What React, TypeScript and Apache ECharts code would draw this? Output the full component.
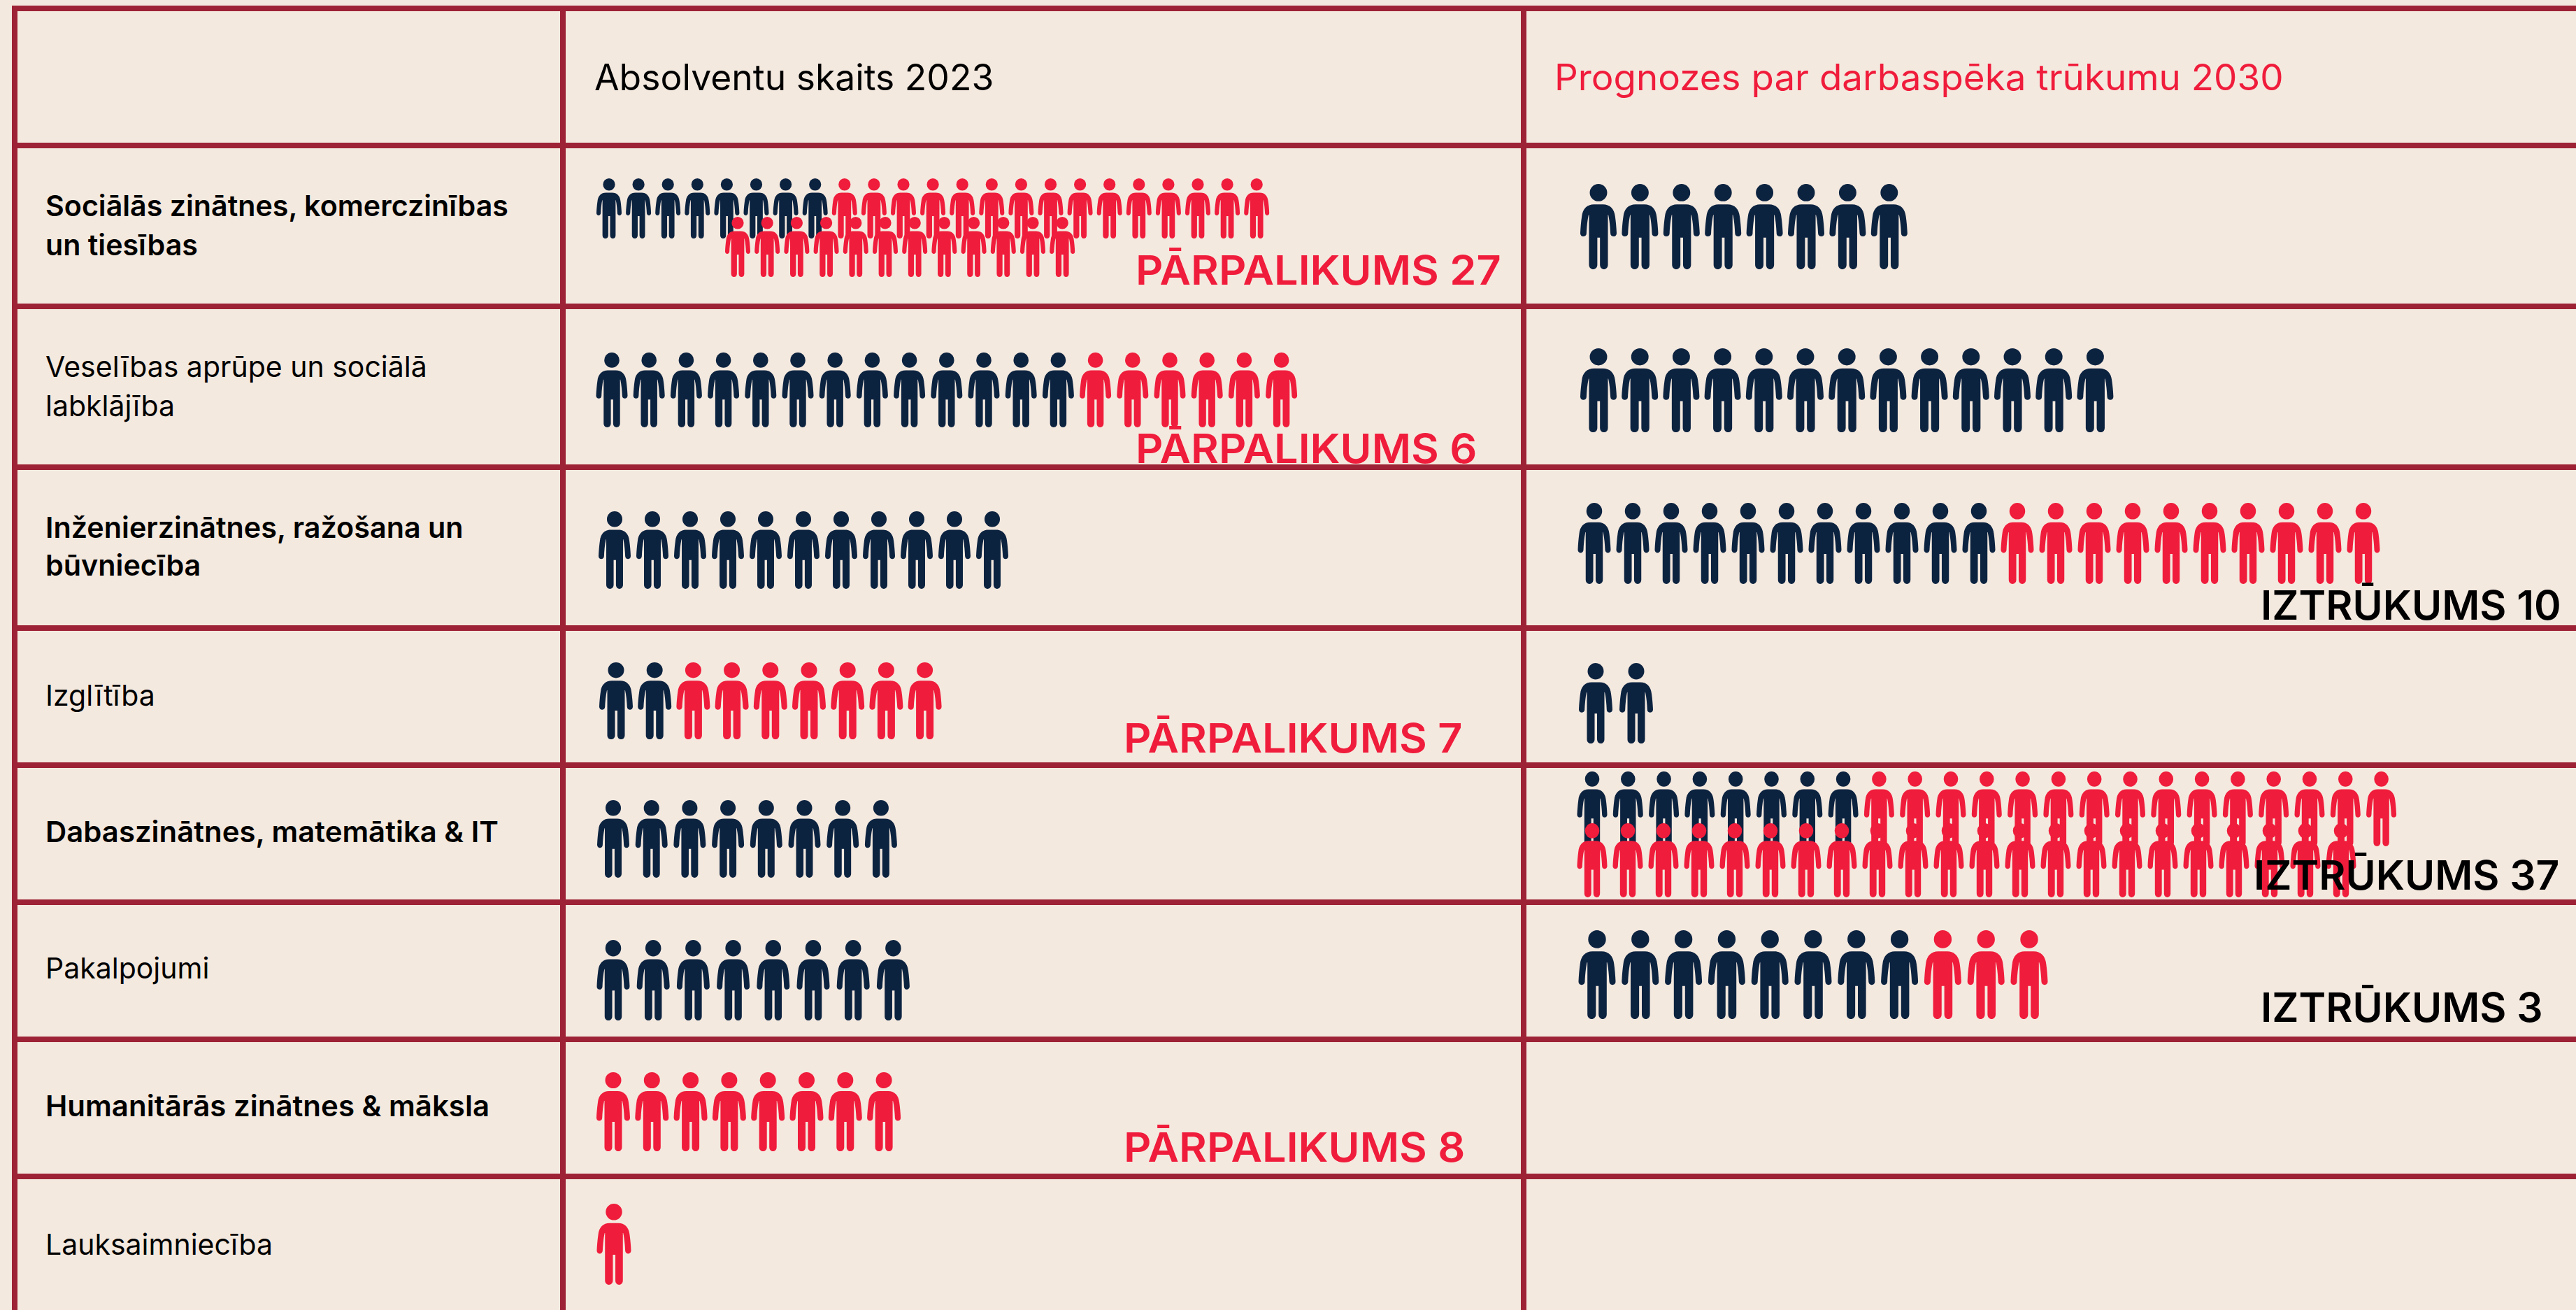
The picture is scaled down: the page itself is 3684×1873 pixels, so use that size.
import React, { useEffect, useRef } from "react";
import * as echarts from "echarts";

// ---- data ----
const rowLabels = [
  ["Sociālās zinātnes, komerczinības", "un tiesības"],
  ["Veselības aprūpe un sociālā", "labklājība"],
  ["Inženierzinātnes, ražošana un", "būvniecība"],
  ["Izglītība"],
  ["Dabaszinātnes, matemātika & IT"],
  ["Pakalpojumi"],
  ["Humanitārās zinātnes & māksla"],
  ["Lauksaimniecība"],
];
const headerGraduates = "Absolventu skaits 2023";
const headerForecast = "Prognozes par darbaspēka trūkumu 2030";

const graduatesNavy = [8, 13, 11, 2, 8, 8, 0, 0];
const graduatesRed = [15, 6, 0, 7, 0, 0, 8, 1];
const graduatesSecondLineRed = [12];
const forecastNavy = [8, 13, 11, 2, 8, 8];
const forecastRed = [0, 0, 10, 0, 15, 3];
const forecastSecondLineRed = [22];

const surplusLabels = ["PĀRPALIKUMS 27", "PĀRPALIKUMS 6", "PĀRPALIKUMS 7", "PĀRPALIKUMS 8"];
const shortageLabels = ["IZTRŪKUMS 10", "IZTRŪKUMS 37", "IZTRŪKUMS 3"];

// ---- layout and styling ----
const W = 3684;
const H = 1873;
const BG = "#F4E9DF";
const LINE = "#9D2235";
const NAVY = "#0C2340";
const RED = "#F01C3B";
const FONT = "Inter";

const hLines = [8, 204, 434, 664, 894, 1090, 1286, 1482, 1678];
const vLines = [17, 801, 2175];

const PERSON =
  "path://M12.5 11.5A11.5 11.5 0 1 1 35.5 11.5A11.5 11.5 0 1 1 12.5 11.5ZM18 27L30 27C39 27 45 33 46 43C47 50 47.7 58 48 65C48.2 71 40 71 39.8 65.5C39.5 58 38.6 48 37 41L36.5 41L36.5 107C36.5 115 26 115 26 107L26 71L22.5 71L22.5 107C22.5 115 11.5 115 11.5 107L11.5 41L11 41C9.4 48 8.5 58 8.2 65.5C8 71 -0.2 71 0 65C0.3 58 1 50 2 43C3 33 9 27 18 27Z";

type Block = { navy: number; red: number; first: number; step: number; top: number; bottom: number; w: number };

const blocks: Block[] = [
  { navy: graduatesNavy[0], red: graduatesRed[0], first: 871, step: 42.1, top: 255, bottom: 341, w: 36 },
  { navy: 0, red: graduatesSecondLineRed[0], first: 1055, step: 42.2, top: 310, bottom: 396, w: 36 },
  { navy: graduatesNavy[1], red: graduatesRed[1], first: 875, step: 53.2, top: 504, bottom: 611, w: 45 },
  { navy: graduatesNavy[2], red: graduatesRed[2], first: 879, step: 54, top: 731, bottom: 842, w: 46 },
  { navy: graduatesNavy[3], red: graduatesRed[3], first: 881, step: 55.2, top: 947, bottom: 1057, w: 48 },
  { navy: graduatesNavy[4], red: graduatesRed[4], first: 877, step: 54.7, top: 1144, bottom: 1255, w: 46 },
  { navy: graduatesNavy[5], red: graduatesRed[5], first: 877, step: 57.2, top: 1344, bottom: 1459, w: 47 },
  { navy: graduatesNavy[6], red: graduatesRed[6], first: 877, step: 55.3, top: 1533, bottom: 1646, w: 48 },
  { navy: graduatesNavy[7], red: graduatesRed[7], first: 878, step: 55, top: 1721, bottom: 1837, w: 49 },

  { navy: forecastNavy[0], red: forecastRed[0], first: 2286, step: 59.4, top: 263, bottom: 385, w: 52 },
  { navy: forecastNavy[1], red: forecastRed[1], first: 2286, step: 59.2, top: 498, bottom: 618, w: 52 },
  { navy: forecastNavy[2], red: forecastRed[2], first: 2280, step: 55, top: 719, bottom: 835, w: 47 },
  { navy: forecastNavy[3], red: forecastRed[3], first: 2282, step: 58, top: 948, bottom: 1063, w: 48 },
  { navy: forecastNavy[4], red: forecastRed[4], first: 2277, step: 51.3, top: 1103, bottom: 1210, w: 43 },
  { navy: 0, red: forecastSecondLineRed[0], first: 2277, step: 51, top: 1177, bottom: 1283, w: 43 },
  { navy: forecastNavy[5], red: forecastRed[5], first: 2284, step: 61.8, top: 1330, bottom: 1457, w: 53 },
];

const labelLines = [[294, 350], [524, 580], [754, 808], [994], [1189], [1384], [1581], [1779]];
const labelBold = [true, false, true, false, true, false, true, false];
const labelStretch = [1.005, 1, 1.008, 1, 1.022, 1, 1.025, 1];
const surplusPos = [
  { x: 1624, y: 386 },
  { x: 1624, y: 641 },
  { x: 1607, y: 1055 },
  { x: 1607, y: 1640 },
];
const shortagePos = [
  { x: 3233, y: 865 },
  { x: 3223, y: 1251 },
  { x: 3233, y: 1440 },
];

function text(t: string, x: number, y: number, size: number, weight: number, fill: string, sx = 1) {
  return {
    type: "text",
    x,
    y,
    z: 20,
    scaleX: sx,
    silent: true,
    style: {
      text: t,
      fill,
      fontFamily: FONT,
      fontSize: size,
      fontWeight: weight,
      align: "left",
      verticalAlign: "middle",
    },
  };
}

function buildOption() {
  const grid: any[] = [];
  const xAxis: any[] = [];
  const yAxis: any[] = [];
  const series: any[] = [];
  blocks.forEach((b, i) => {
    const n = b.navy + b.red;
    grid.push({
      left: b.first - b.step / 2,
      width: n * b.step,
      top: b.top,
      height: b.bottom - b.top,
      containLabel: false,
    });
    xAxis.push({ type: "value", gridIndex: i, min: -0.5, max: n - 0.5, show: false });
    yAxis.push({ type: "value", gridIndex: i, min: -1, max: 1, show: false });
    const size = [b.w, b.bottom - b.top];
    const idx = Array.from({ length: n }, (_, k) => k);
    const mk = (data: number[][], color: string) => ({
      type: "scatter",
      xAxisIndex: i,
      yAxisIndex: i,
      symbol: PERSON,
      symbolSize: size,
      symbolKeepAspect: false,
      clip: false,
      silent: true,
      z: 5,
      itemStyle: { color, opacity: 1 },
      data,
    });
    if (b.navy) series.push(mk(idx.slice(0, b.navy).map((k) => [k, 0]), NAVY));
    if (b.red) series.push(mk(idx.slice(b.navy).map((k) => [k, 0]), RED));
  });

  const graphic: any[] = [];
  vLines.forEach((x) =>
    graphic.push({ type: "rect", z: 1, silent: true, shape: { x, y: 8, width: 8, height: H - 8 }, style: { fill: LINE } })
  );
  hLines.forEach((y) =>
    graphic.push({ type: "rect", z: 1, silent: true, shape: { x: 17, y, width: W - 17, height: 8 }, style: { fill: LINE } })
  );
  graphic.push(text(headerGraduates, 850, 110, 52, 400, "#000000", 0.993));
  graphic.push(text(headerForecast, 2223, 110, 52, 400, RED, 1.018));
  rowLabels.forEach((lines, r) =>
    lines.forEach((l, k) =>
      graphic.push(text(l, 65, labelLines[r][k], 41, labelBold[r] ? 600 : 400, "#000000", labelStretch[r]))
    )
  );
  surplusLabels.forEach((l, i) => graphic.push(text(l, surplusPos[i].x, surplusPos[i].y, 58, 600, RED, 1.055)));
  shortageLabels.forEach((l, i) =>
    graphic.push(text(l, shortagePos[i].x, shortagePos[i].y, 58, 600, "#000000", 1.012))
  );

  return { animation: false, backgroundColor: BG, grid, xAxis, yAxis, series, graphic: { elements: graphic } };
}

export default function App() {
  const ref = useRef<HTMLDivElement>(null);
  useEffect(() => {
    document.body.style.margin = "0";
    const chart = echarts.init(ref.current!, undefined, { renderer: "svg" });
    chart.setOption(buildOption() as any);
    return () => chart.dispose();
  }, []);
  return <div ref={ref} style={{ width: W, height: H }} />;
}
